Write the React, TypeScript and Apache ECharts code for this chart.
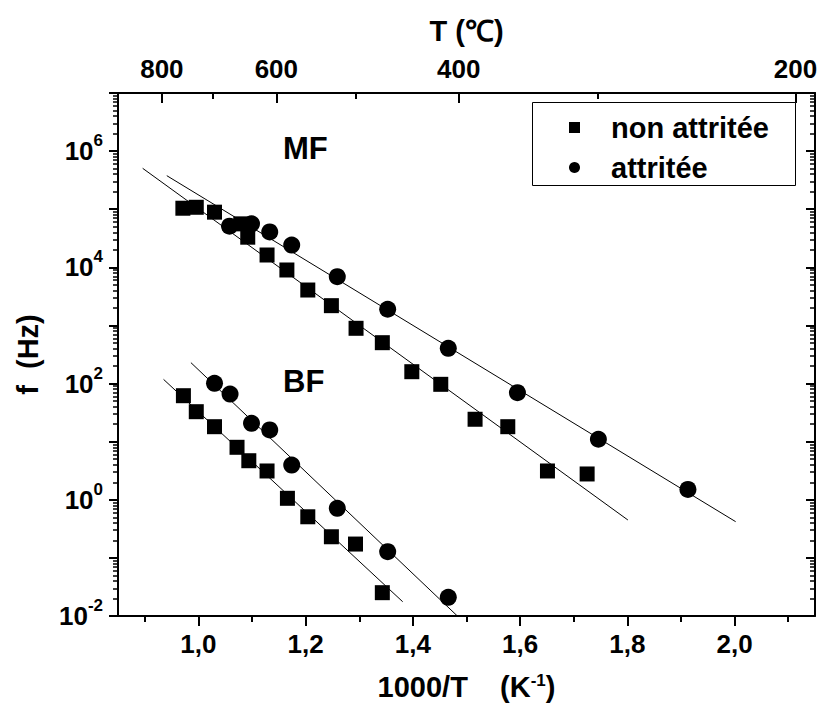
import React, { useEffect, useRef } from 'react';
import * as echarts from 'echarts';

// ---- data (1000/T in K^-1, f in Hz) ----
const invT_MF_non = [0.971, 0.996, 1.030, 1.079, 1.092, 1.128, 1.165, 1.204, 1.248, 1.294, 1.343, 1.398, 1.452, 1.516, 1.577, 1.651, 1.725];
const f_MF_non = [1.04e5, 1.08e5, 8.9e4, 5.6e4, 3.3e4, 1.63e4, 9.0e3, 4.07e3, 2.19e3, 893, 505, 160, 97, 24.3, 18.1, 3.13, 2.78];
const invT_MF_att = [1.058, 1.099, 1.133, 1.174, 1.259, 1.353, 1.466, 1.595, 1.746, 1.913];
const f_MF_att = [5.1e4, 5.6e4, 4.06e4, 2.42e4, 6.9e3, 1.9e3, 404, 69.6, 11.0, 1.51];
const invT_BF_non = [0.972, 0.996, 1.030, 1.072, 1.094, 1.128, 1.166, 1.204, 1.248, 1.293, 1.343];
const f_BF_non = [61.8, 32.8, 18.1, 8.0, 4.7, 3.13, 1.06, 0.51, 0.231, 0.173, 0.0252];
const invT_BF_att = [1.030, 1.059, 1.099, 1.133, 1.174, 1.259, 1.353, 1.466];
const f_BF_att = [101, 66, 20.7, 15.9, 3.96, 0.713, 0.128, 0.021];

// fitted lines (end points)
const fitMF_non_x = [0.896, 1.801];
const fitMF_non_f = [5.06e5, 0.449];
const fitMF_att_x = [0.941, 2.002];
const fitMF_att_f = [3.78e5, 0.42];
const fitBF_non_x = [0.935, 1.381];
const fitBF_non_f = [118, 0.0176];
const fitBF_att_x = [0.986, 1.483];
const fitBF_att_f = [229, 0.01];

// ---- axes ticks ----
const xMajor = [1.0, 1.2, 1.4, 1.6, 1.8, 2.0];
const xMinor = [0.9, 1.1, 1.3, 1.5, 1.7, 1.9, 2.1];
const tMajor = [800, 600, 400, 200];
const tMinor = [700, 500, 300];
const yDecades = [1e-2, 1e-1, 1, 10, 1e2, 1e3, 1e4, 1e5, 1e6, 1e7];
const yLabels = [1e-2, 1, 1e2, 1e4, 1e6];
const yMinorMult = [2, 3, 4, 5, 6, 7, 8, 9];

const FONT = '"Liberation Sans", Arial, sans-serif';

function zip(xs: number[], ys: number[]) {
  return xs.map((x, i) => [x, ys[i]]);
}

export default function App() {
  const ref = useRef<HTMLDivElement>(null);
  useEffect(() => {
    if (!ref.current) return;
    const chart = echarts.init(ref.current, null, { renderer: 'svg' });
    const toInv = (t: number) => 1000 / (t + 273.15);
    const yMinor: number[] = [];
    for (let e = -2; e < 7; e++) {
      for (const m of yMinorMult) yMinor.push(m * Math.pow(10, e));
    }
    const XMIN = 0.85, XMAX = 2.15;
    const axisLine = { show: true, onZero: false, lineStyle: { color: '#000', width: 2 } };
    const noLine = { show: false, onZero: false };
    const tickStyle = { color: '#000', width: 2 };
    const labelBase = { color: '#000', fontSize: 26, fontWeight: 'bold' as const, fontFamily: FONT };
    const nameStyle = { color: '#000', fontSize: 29, fontWeight: 'bold' as const, fontFamily: FONT };

    const lineSeries = (name: string, xs: number[], fs: number[]) => ({
      name, type: 'line', data: zip(xs, fs), symbol: 'none', silent: true,
      lineStyle: { color: '#000', width: 1 }, xAxisIndex: 0, yAxisIndex: 0, z: 1,
    });
    const scatter = (name: string, xs: number[], fs: number[], sym: string, size: number) => ({
      name, type: 'scatter', data: zip(xs, fs), symbol: sym, symbolSize: size,
      itemStyle: { color: '#000', opacity: 1 }, xAxisIndex: 0, yAxisIndex: 0, z: 3,
    });

    chart.setOption({
      animation: false,
      textStyle: { fontFamily: FONT },
      grid: { left: 118, right: 4, top: 93, bottom: 88, containLabel: false, outerBoundsMode: 'none' },
      legend: {
        orient: 'vertical', left: 569, top: 113, padding: 0, itemGap: 11,
        itemWidth: 11, itemHeight: 11,
        data: [{ name: 'non attritée', icon: 'rect' }, { name: 'attritée', icon: 'circle' }],
        itemStyle: { opacity: 1 },
        textStyle: { color: '#000', fontSize: 29, fontWeight: 'bold', fontFamily: FONT, padding: [0, 0, 0, 26] },
        z: 10,
      },
      xAxis: [
        {
          type: 'value', position: 'bottom', min: XMIN, max: XMAX,
          axisLine, splitLine: { show: false },
          axisTick: { show: true, customValues: xMajor, length: 10, lineStyle: tickStyle },
          axisLabel: { ...labelBase, customValues: xMajor, margin: 15, formatter: (v: number) => v.toFixed(1).replace('.', ',') },
          name: '{a|1000/T    (K}{s|-1}{a|)}', nameLocation: 'middle', nameGap: 56,
          nameTextStyle: {
            ...nameStyle,
            rich: {
              a: { ...nameStyle, lineHeight: 30 },
              s: { ...nameStyle, fontSize: 17, lineHeight: 15, verticalAlign: 'top' },
            },
          },
        },
        {
          type: 'value', position: 'bottom', min: XMIN, max: XMAX,
          axisLine: noLine, splitLine: { show: false },
          axisTick: { show: true, customValues: xMinor, length: 6, lineStyle: tickStyle },
          axisLabel: { show: false },
        },
        {
          type: 'value', position: 'top', min: XMIN, max: XMAX,
          axisLine, splitLine: { show: false },
          axisTick: { show: true, inside: true, customValues: tMajor.map(toInv), length: 10, lineStyle: tickStyle },
          axisLabel: { ...labelBase, customValues: tMajor.map(toInv), margin: 11, formatter: (v: number) => String(Math.round(1000 / v - 273.15)) },
          name: 'T (℃)', nameLocation: 'middle', nameGap: 48, nameTextStyle: nameStyle,
        },
        {
          type: 'value', position: 'top', min: XMIN, max: XMAX,
          axisLine: noLine, splitLine: { show: false },
          axisTick: { show: true, inside: true, customValues: tMinor.map(toInv), length: 6, lineStyle: tickStyle },
          axisLabel: { show: false },
        },
      ],
      yAxis: [
        {
          type: 'log', logBase: 10, position: 'left', min: 1e-2, max: 1e7,
          axisLine, splitLine: { show: false }, minorTick: { show: false },
          axisTick: { show: true, customValues: yDecades, length: 9, lineStyle: tickStyle },
          axisLabel: {
            ...labelBase, customValues: yLabels, margin: 15,
            formatter: (v: number) => `{b|10}{s|${Math.round(Math.log10(v))}}`,
            rich: {
              b: { ...labelBase, lineHeight: 38, verticalAlign: 'middle' },
              s: { ...labelBase, fontSize: 17, lineHeight: 17, verticalAlign: 'top' },
            },
          },
          name: 'f  (Hz)', nameLocation: 'middle', nameGap: 76, nameTextStyle: nameStyle,
        },
        {
          type: 'log', logBase: 10, position: 'left', min: 1e-2, max: 1e7,
          axisLine: noLine, splitLine: { show: false },
          axisTick: { show: true, customValues: yMinor, length: 5, lineStyle: { color: '#000', width: 1.5 } },
          axisLabel: { show: false },
        },
        {
          type: 'log', logBase: 10, position: 'right', min: 1e-2, max: 1e7,
          axisLine, splitLine: { show: false },
          axisTick: { show: true, inside: true, customValues: yDecades, length: 9, lineStyle: tickStyle },
          axisLabel: { show: false },
        },
        {
          type: 'log', logBase: 10, position: 'right', min: 1e-2, max: 1e7,
          axisLine: noLine, splitLine: { show: false },
          axisTick: { show: true, inside: true, customValues: yMinor, length: 5, lineStyle: { color: '#000', width: 1.5 } },
          axisLabel: { show: false },
        },
      ],
      graphic: [
        { type: 'rect', left: 532, top: 102, shape: { width: 263, height: 83 }, style: { fill: '#fff', stroke: '#000', lineWidth: 1 }, z: 5 },
        { type: 'text', left: 283, top: 133, style: { text: 'MF', fill: '#000', font: `bold 31px ${FONT}` }, z: 5 },
        { type: 'text', left: 283, top: 366, style: { text: 'BF', fill: '#000', font: `bold 31px ${FONT}` }, z: 5 },
      ],
      series: [
        lineSeries('fit MF non attritée', fitMF_non_x, fitMF_non_f),
        lineSeries('fit MF attritée', fitMF_att_x, fitMF_att_f),
        lineSeries('fit BF non attritée', fitBF_non_x, fitBF_non_f),
        lineSeries('fit BF attritée', fitBF_att_x, fitBF_att_f),
        scatter('non attritée', invT_MF_non, f_MF_non, 'rect', 15),
        scatter('non attritée', invT_BF_non, f_BF_non, 'rect', 15),
        scatter('attritée', invT_MF_att, f_MF_att, 'circle', 17),
        scatter('attritée', invT_BF_att, f_BF_att, 'circle', 17),
      ],
    });
    return () => chart.dispose();
  }, []);
  return <div ref={ref} style={{ position: 'fixed', left: 0, top: 0, width: 819, height: 704, background: '#fff' }} />;
}
